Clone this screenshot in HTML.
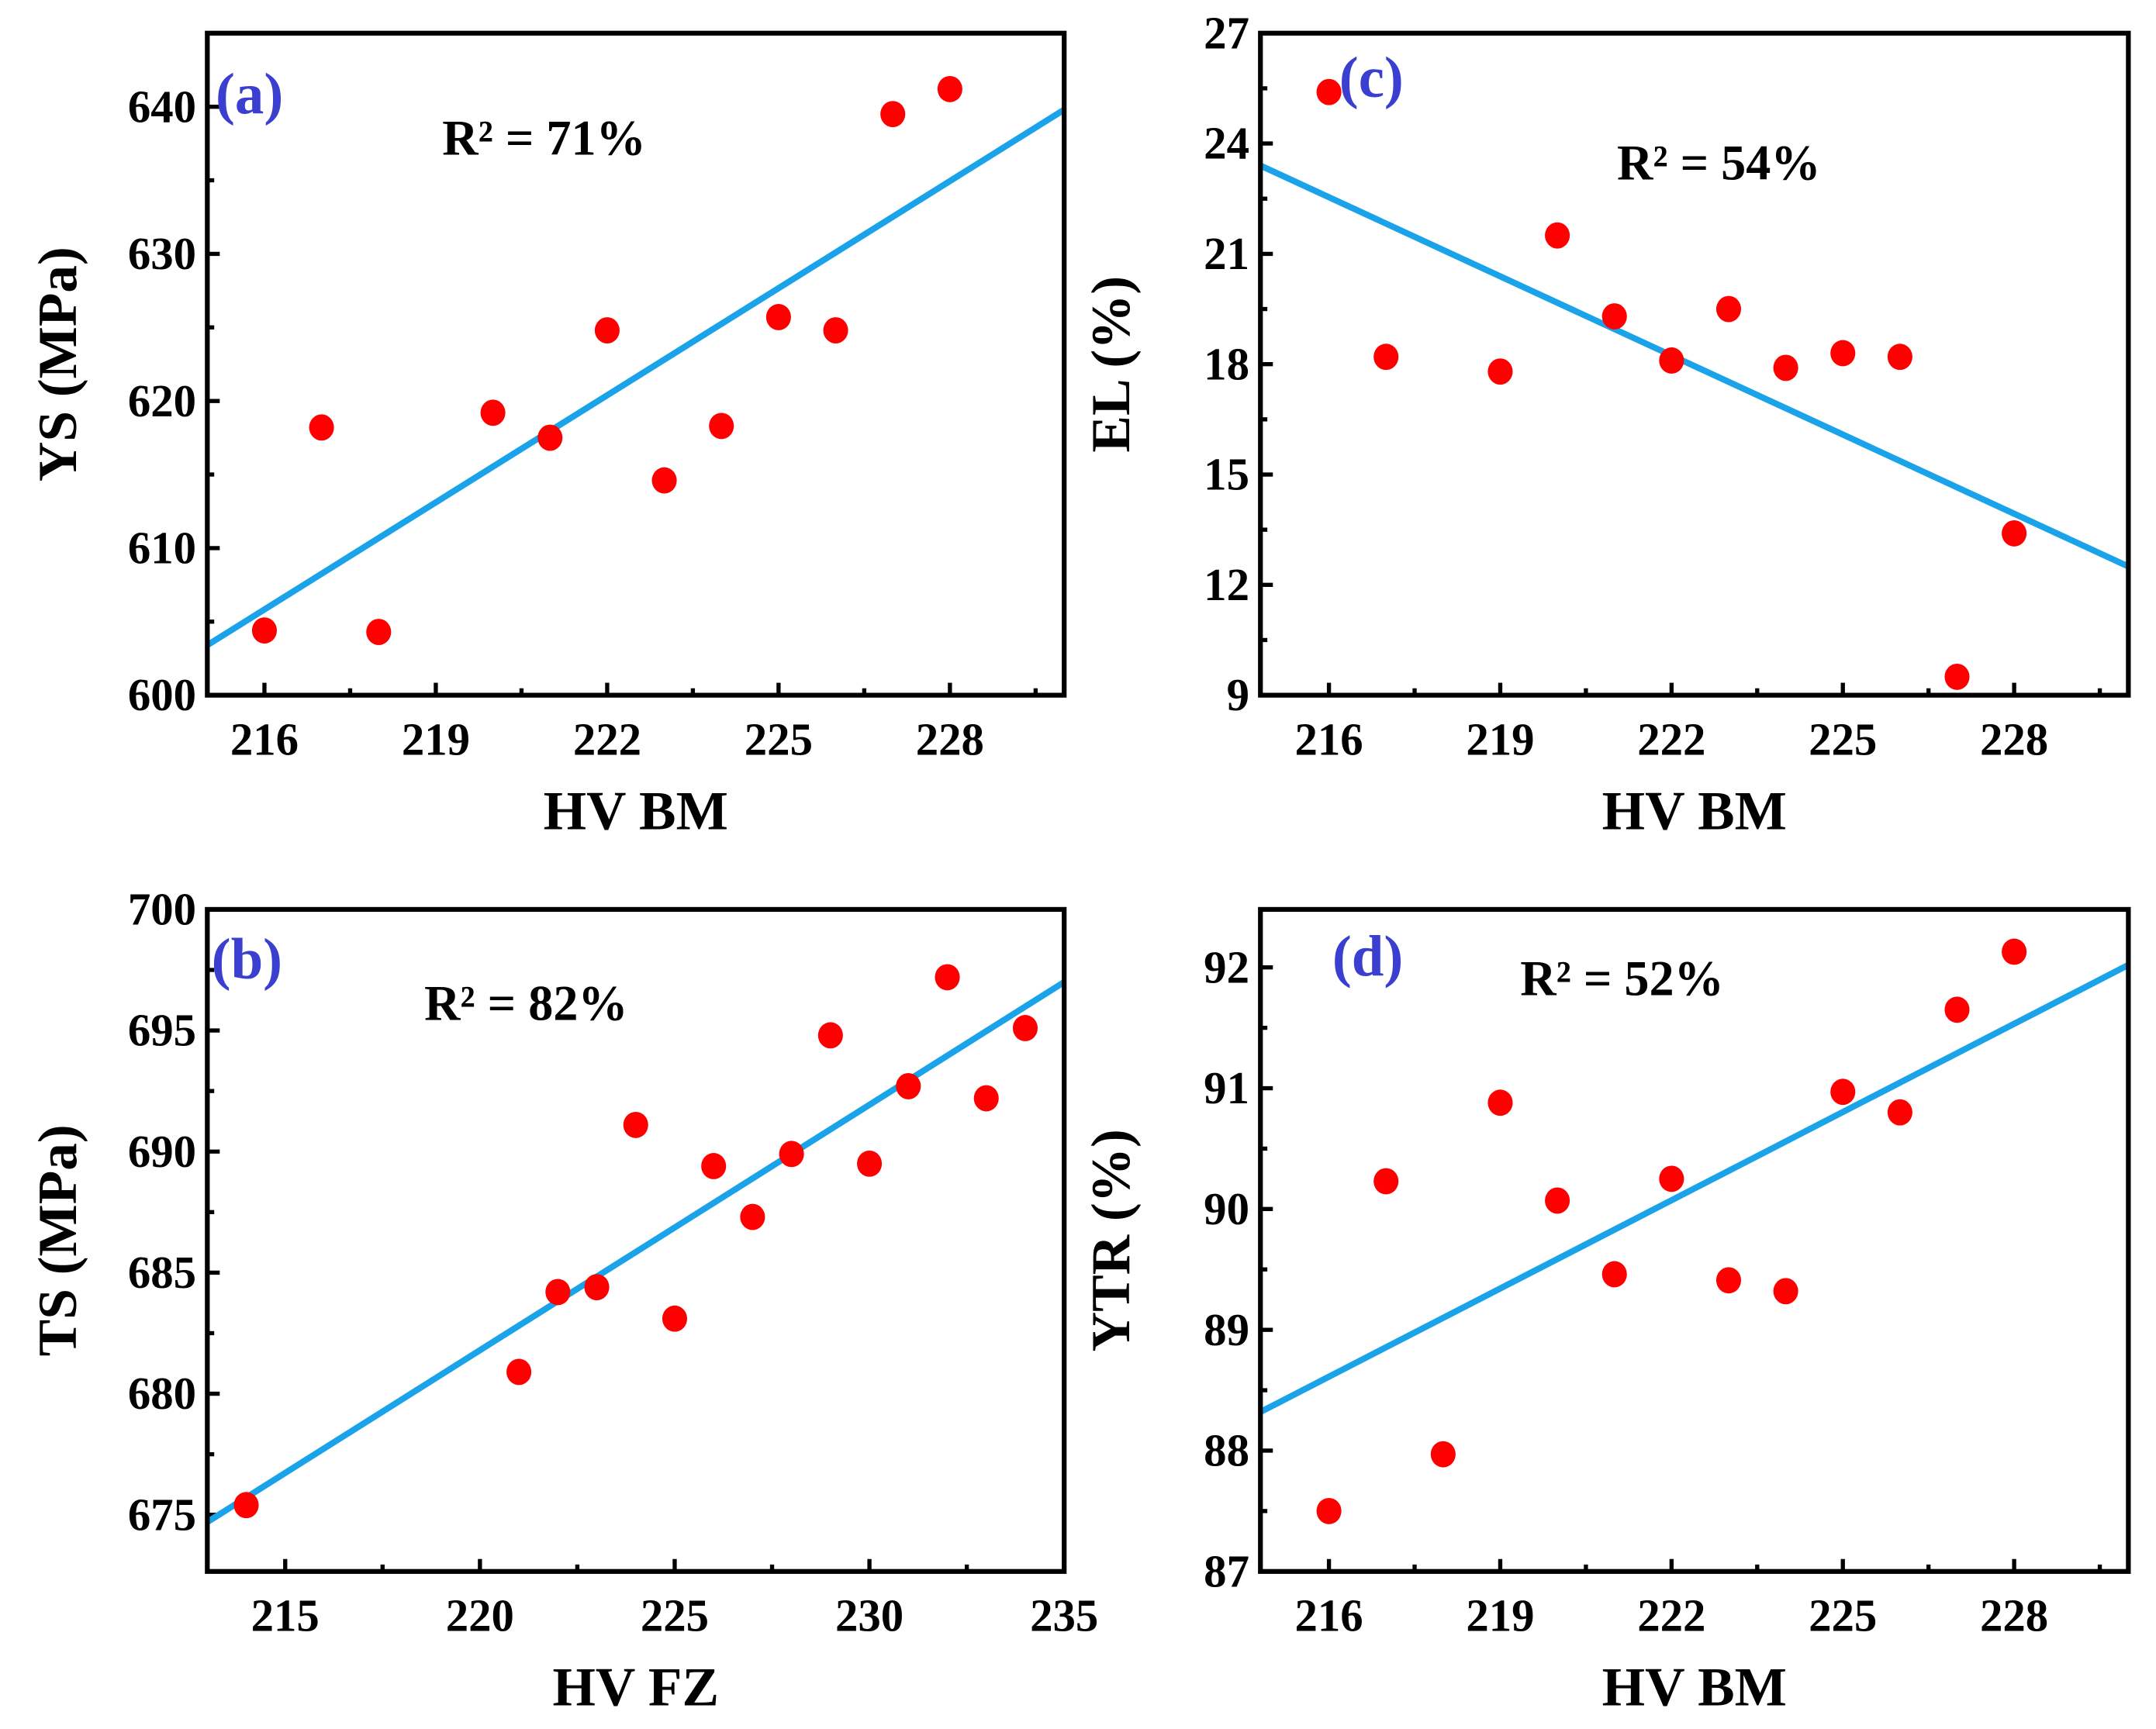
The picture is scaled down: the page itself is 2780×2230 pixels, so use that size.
<!DOCTYPE html>
<html><head><meta charset="utf-8">
<style>
html,body{margin:0;padding:0;background:#fff;}
svg{display:block;}
text{font-family:"Liberation Serif",serif;font-weight:bold;}
</style></head>
<body>
<svg id="fig" width="2780" height="2230" viewBox="0 0 1560 1251" preserveAspectRatio="none" xmlns="http://www.w3.org/2000/svg">
<rect x="0" y="0" width="1560" height="1251" fill="#fff"/>
</svg>
<script>
// Panel (a)
const aX = [216,217,218,220,221,222,223,224,225,226,227,228];
const aY = [604.4,618.2,604.3,619.2,617.5,624.8,614.6,618.3,625.7,624.8,639.5,641.2];
const aFit = [603.4,639.8];
// Panel (b)
const bX = [214,221,222,223,224,225,226,227,228,229,230,231,232,233,234];
const bY = [675.4,680.9,684.2,684.4,691.1,683.1,689.4,687.3,689.9,694.8,689.5,692.7,697.2,692.2,695.1];
const bFit = [674.7,697.0];
// Panel (c)
const cX = [216,217,219,220,221,222,223,224,225,226,227,228];
const cY = [25.4,18.2,17.8,21.5,19.3,18.1,19.5,17.9,18.3,18.2,9.5,13.4];
const cFit = [23.4,12.5];
// Panel (d)
const dX = [216,217,218,219,220,221,222,223,224,225,226,227,228];
const dY = [87.5,90.23,87.97,90.88,90.07,89.46,90.25,89.41,89.32,90.97,90.8,91.65,92.13];
const dFit = [88.32,92.02];

const abXTicks = [216,219,222,225,228];
const bXTicks = [215,220,225,230,235];
const aYTicks = [600,610,620,630,640];
const bYTicks = [675,680,685,690,695,700];
const cYTicks = [9,12,15,18,21,24,27];
const dYTicks = [87,88,89,90,91,92];

const NS="http://www.w3.org/2000/svg";
const svg=document.getElementById('fig');
function mk(tag,attrs,parent){const e=document.createElementNS(NS,tag);for(const k in attrs)e.setAttribute(k,attrs[k]);(parent||svg).appendChild(e);return e;}

function panel(o){
  const g=mk('g',{});
  
  
  const sx=v=>o.L+(v-o.x0)/(o.x1-o.x0)*(o.R-o.L);
  const sy=v=>o.B-(v-o.y0)/(o.y1-o.y0)*(o.B-o.T);
  const xt=o.xTicks, yt=o.yTicks;
  const xs=xt[1]-xt[0], ys=yt[1]-yt[0];
  for(let v=xt[0]-xs/2;v<=o.x1+1e-9;v+=xs/2){
    if(v<o.x0-1e-9)continue;
    const major=Math.abs(((v-xt[0])/xs)-Math.round((v-xt[0])/xs))<1e-6;
    const len=major?9:5;
    const t=mk('line',{x1:sx(v),x2:sx(v),y1:o.B,y2:o.B-len,stroke:'#000','stroke-width':3},g);
    
    
  }
  for(let v=yt[0];v<=o.y1+1e-9;v+=ys/2){
    const major=Math.abs(((v-yt[0])/ys)-Math.round((v-yt[0])/ys))<1e-6;
    const len=major?9:5;
    const t=mk('line',{x1:o.L,x2:o.L+len,y1:sy(v),y2:sy(v),stroke:'#000','stroke-width':3},g);
    
    
  }
  xt.forEach(v=>{
    const t=mk('text',{x:sx(v),y:o.B+43,'text-anchor':'middle','font-size':33},g);
    t.textContent=v;
    
    
  });
  yt.forEach(v=>{
    const t=mk('text',{x:o.L-8,y:sy(v)+11,'text-anchor':'end','font-size':33},g);
    t.textContent=v;
    
    
  });
  const ln=mk('line',{x1:sx(o.x0),y1:sy(o.fit[0]),x2:sx(o.x1),y2:sy(o.fit[1]),stroke:'#1aa3e8','stroke-width':4.5},g);
  
  
  o.xs.forEach((x,i)=>{
    const c=mk('ellipse',{cx:sx(x),cy:sy(o.ys[i]),rx:9,ry:9.5,fill:'#f00'},g);
    
    
  });
  const fr=mk('rect',{x:o.L,y:o.T,width:o.R-o.L,height:o.B-o.T,fill:'none',stroke:'#000','stroke-width':3.5},g);
  
  
  const pl=mk('text',{x:o.pl[0],y:o.pl[1],'font-size':42,fill:'#3a3fd0'},g);
  pl.textContent='('+o.id+')';
  
  
  const r2=mk('text',{x:o.r2[0],y:o.r2[1],'font-size':36},g);
  r2.textContent='R² = '+o.r2t;
  
  
  const xtl=mk('text',{x:(o.L+o.R)/2,y:o.B+97,'text-anchor':'middle','font-size':40},g);
  xtl.textContent=o.xt;
  
  
  const cy=(o.T+o.B)/2;
  const ytl=mk('text',{x:o.L-95,y:cy,'text-anchor':'middle','font-size':40,transform:'rotate(-90 '+(o.L-95)+' '+cy+')'},g);
  ytl.textContent=o.yt;
  
  
}

panel({id:'a',L:150,R:770,T:24,B:503,x0:215,x1:230,y0:600,y1:645,xs:aX,ys:aY,fit:aFit,xTicks:abXTicks,yTicks:aYTicks,pl:[156,82],r2:[320,112],r2t:'71%',xt:'HV BM',yt:'YS (MPa)'});
panel({id:'b',L:150,R:770,T:658,B:1137,x0:213,x1:235,y0:672.66,y1:700,xs:bX,ys:bY,fit:bFit,xTicks:bXTicks,yTicks:bYTicks,pl:[153,708],r2:[307,738],r2t:'82%',xt:'HV FZ',yt:'TS (MPa)'});
panel({id:'c',L:912,R:1540,T:24,B:503,x0:214.8,x1:230,y0:9,y1:27,xs:cX,ys:cY,fit:cFit,xTicks:abXTicks,yTicks:cYTicks,pl:[969,70],r2:[1170,130],r2t:'54%',xt:'HV BM',yt:'EL (%)'});
panel({id:'d',L:912,R:1540,T:658,B:1137,x0:214.8,x1:230,y0:87,y1:92.48,xs:dX,ys:dY,fit:dFit,xTicks:abXTicks,yTicks:dYTicks,pl:[964,706],r2:[1100,720],r2t:'52%',xt:'HV BM',yt:'YTR (%)'});
</script>
</body></html>
